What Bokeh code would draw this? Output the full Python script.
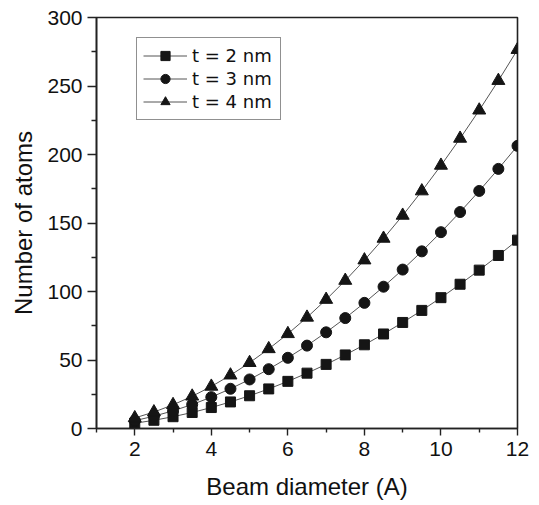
from bokeh.plotting import figure
from bokeh.models import Legend, LegendItem, FixedTicker, Range1d
from bokeh.embed import file_html
from bokeh.resources import INLINE

# Data
diameter = [2.0, 2.5, 3.0, 3.5, 4.0, 4.5, 5.0, 5.5, 6.0, 6.5, 7.0, 7.5, 8.0,
            8.5, 9.0, 9.5, 10.0, 10.5, 11.0, 11.5, 12.0]
t2_atoms = [3.8, 6.0, 8.6, 11.7, 15.3, 19.4, 23.9, 28.9, 34.4, 40.4, 46.8, 53.7,
            61.1, 69.0, 77.4, 86.2, 95.5, 105.3, 115.6, 126.3, 137.5]
t3_atoms = [5.7, 9.0, 12.9, 17.5, 22.9, 29.0, 35.8, 43.3, 51.6, 60.5, 70.2, 80.6,
            91.7, 103.5, 116.0, 129.3, 143.3, 158.0, 173.4, 189.5, 206.3]
t4_atoms = [7.7, 12.0, 17.3, 23.5, 30.7, 38.9, 48.0, 58.1, 69.1, 81.1, 94.1, 108.0,
            122.9, 138.7, 155.5, 173.3, 192.0, 211.7, 232.3, 253.9, 276.5]
labels = ["t = 2 nm", "t = 3 nm", "t = 4 nm"]
x_ticks = [2, 4, 6, 8, 10, 12]
y_ticks = [0, 50, 100, 150, 200, 250, 300]

FONT = "Liberation Sans"

p = figure(frame_width=421, frame_height=411, output_backend="svg",
           toolbar_location=None, x_range=Range1d(1, 12), y_range=Range1d(0, 300),
           min_border_left=96, min_border_top=17, min_border_right=12,
           min_border_bottom=60)
p.grid.visible = False
p.background_fill_color = "white"
p.border_fill_color = "white"
p.outline_line_color = "#222222"
p.outline_line_width = 1.6

p.xaxis.ticker = FixedTicker(ticks=x_ticks, minor_ticks=[1, 3, 5, 7, 9, 11])
p.yaxis.ticker = FixedTicker(ticks=y_ticks, minor_ticks=[25, 75, 125, 175, 225, 275])
p.xaxis.axis_label = "Beam diameter (A)"
p.yaxis.axis_label = "Number of atoms"

for ax in (p.xaxis[0], p.yaxis[0]):
    ax.axis_line_width = 1.6
    ax.axis_line_color = "#222222"
    ax.major_tick_line_color = "#222222"
    ax.minor_tick_line_color = "#222222"
    ax.major_tick_line_width = 1.4
    ax.minor_tick_line_width = 1.4
    ax.major_tick_in = 0
    ax.minor_tick_in = 0
    ax.major_label_text_font = FONT
    ax.major_label_text_font_size = "21px"
    ax.major_label_text_color = "#111111"
    ax.axis_label_text_font = FONT
    ax.axis_label_text_font_size = "24px"
    ax.axis_label_text_font_style = "normal"
    ax.axis_label_text_color = "#111111"

p.xaxis.major_tick_out = 7
p.xaxis.minor_tick_out = 4
p.yaxis.major_tick_out = 9
p.yaxis.minor_tick_out = 5
p.xaxis.major_label_standoff = 6
p.yaxis.major_label_standoff = 5
p.xaxis.axis_label_standoff = 14
p.yaxis.axis_label_standoff = 7

series = [(t2_atoms, "square", 10), (t3_atoms, "circle", 11), (t4_atoms, "triangle", 13)]
items = []
for (vals, marker, size), lab in zip(series, labels):
    ln = p.line(diameter, vals, line_color="#555555", line_width=1)
    sc = p.scatter(diameter, vals, marker=marker, size=size,
                   fill_color="#151515", line_color="#151515")
    items.append(LegendItem(label=lab, renderers=[ln, sc]))

legend = Legend(items=items, location=(40, 308))
legend.border_line_color = "#222222"
legend.border_line_width = 1.2
legend.background_fill_color = "white"
legend.background_fill_alpha = 1
legend.label_text_font = "DejaVu Sans"
legend.label_text_font_size = "18px"
legend.label_text_color = "#111111"
legend.glyph_width = 44
legend.glyph_height = 23
legend.label_height = 23
legend.label_width = 82
legend.label_standoff = 5
legend.padding = 6
legend.spacing = 0
legend.margin = 0
p.add_layout(legend)

open("out.html", "w").write(file_html(p, INLINE))
